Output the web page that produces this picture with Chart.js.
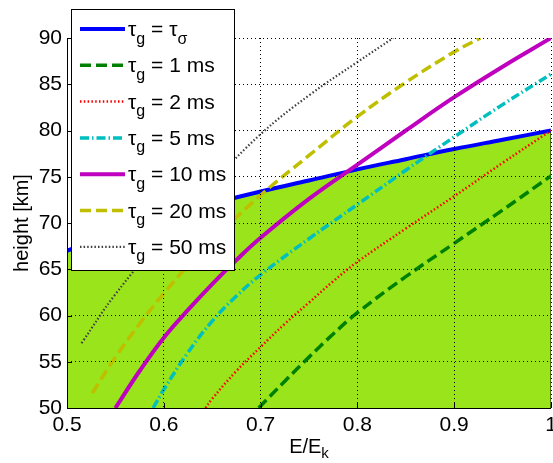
<!DOCTYPE html>
<html><head><meta charset="utf-8">
<script src="https://cdn.jsdelivr.net/npm/chart.js@4.4.1/dist/chart.umd.min.js"></script>
<style>html,body{margin:0;padding:0;background:#fff;}#wrap{width:553px;height:463px;}</style>
</head><body><div id="wrap"><canvas id="c" width="553" height="463"></canvas></div>
<script>
// ---- tick labels ----
const xTickValues = [0.5, 0.6, 0.7, 0.8, 0.9, 1.0];
const xTickLabels = ['0.5', '0.6', '0.7', '0.8', '0.9', '1'];
const yTickValues = [50, 55, 60, 65, 70, 75, 80, 85, 90];
const yTickLabels = ['50', '55', '60', '65', '70', '75', '80', '85', '90'];

// ---- series (E/Ek, height km) ----
const eSigma = [0.50, 0.55, 0.60, 0.65, 0.70, 0.75, 0.80, 0.85, 0.90, 0.95, 1.00];
const hSigma = [67.0, 68.9, 70.6, 72.1, 73.4, 74.6, 75.8, 76.9, 78.0, 79.0, 80.0];

const e1 = [0.698, 0.725, 0.75, 0.775, 0.80, 0.85, 0.90, 0.95, 1.00];
const h1 = [50.0, 52.9, 55.5, 58.0, 60.3, 64.2, 67.8, 71.4, 75.1];

const e2 = [0.643, 0.65, 0.675, 0.70, 0.725, 0.75, 0.775, 0.80, 0.85, 0.90, 0.95, 1.00];
const h2 = [50.0, 51.0, 54.0, 56.6, 59.1, 61.4, 63.7, 65.8, 69.4, 72.9, 76.5, 80.0];

const e5 = [0.589, 0.60, 0.625, 0.65, 0.675, 0.70, 0.75, 0.80, 0.85, 0.90, 0.95, 1.00];
const h5 = [50.0, 52.0, 56.0, 59.4, 62.1, 64.4, 68.3, 72.0, 75.7, 79.3, 82.8, 86.1];

const e10 = [0.550, 0.575, 0.60, 0.625, 0.65, 0.675, 0.70, 0.75, 0.80, 0.85, 0.90, 0.95, 1.00];
const h10 = [50.0, 54.0, 57.6, 60.6, 63.4, 66.0, 68.4, 72.6, 76.3, 80.0, 83.6, 86.9, 90.0];

const e20 = [0.526, 0.55, 0.575, 0.60, 0.625, 0.65, 0.70, 0.75, 0.80, 0.85, 0.90, 0.927];
const h20 = [51.6, 55.5, 59.1, 62.4, 65.4, 68.1, 73.0, 77.3, 81.5, 85.2, 88.5, 90.0];

const e50 = [0.515, 0.55, 0.60, 0.65, 0.70, 0.75, 0.80, 0.837];
const h50 = [57.0, 62.3, 68.6, 74.3, 79.6, 83.8, 87.4, 90.0];

// legend texts: alternating [normal, subscript, normal, subscript...]
const legendTexts = [
  ['τ', 'g', ' = τ', 'σ'],
  ['τ', 'g', ' = 1 ms'],
  ['τ', 'g', ' = 2 ms'],
  ['τ', 'g', ' = 5 ms'],
  ['τ', 'g', ' = 10 ms'],
  ['τ', 'g', ' = 20 ms'],
  ['τ', 'g', ' = 50 ms']
];
const xTitleParts = ['E/E', 'k'];
const yTitle = 'height [km]';

const FONT = "'Liberation Sans', Arial, Helvetica, sans-serif";
const pts = (xs, ys) => xs.map((x, i) => ({x, y: ys[i]}));

const styles = [
  {color: '#0000ff', width: 4, dash: []},
  {color: '#008000', width: 3.5, dash: [11, 5]},
  {color: '#ff0000', width: 2.5, dash: [1.5, 2.3]},
  {color: '#00bfbf', width: 3.5, dash: [9, 3, 1.5, 3]},
  {color: '#bf00bf', width: 4, dash: []},
  {color: '#bfbf00', width: 3.5, dash: [11, 5]},
  {color: '#404040', width: 2.2, dash: [1.5, 2.1]}
];
const seriesData = [pts(eSigma, hSigma), pts(e1, h1), pts(e2, h2), pts(e5, h5), pts(e10, h10), pts(e20, h20), pts(e50, h50)];

const datasets = [];
datasets.push({
  data: pts(eSigma, hSigma), showLine: true, fill: 'start', backgroundColor: 'rgb(153,228,26)',
  borderWidth: 0, borderColor: 'rgba(0,0,0,0)', pointRadius: 0, tension: 0.4, order: 20
});
datasets.push({
  data: [{x: eSigma[eSigma.length - 1], y: yTickValues[0]}, {x: eSigma[eSigma.length - 1], y: hSigma[hSigma.length - 1]}],
  showLine: true, borderColor: '#000', borderWidth: 1, pointRadius: 0, order: 19
});
seriesData.forEach((d, i) => {
  datasets.push({
    data: d, showLine: true, fill: false, borderColor: styles[i].color, borderWidth: styles[i].width,
    borderDash: styles[i].dash, pointRadius: 0, tension: 0.4, order: 10 - i
  });
});

function drawParts(ctx, parts, x, yBase, mainSize, subSize, subDrop) {
  parts.forEach((p, i) => {
    const sub = i % 2 === 1;
    ctx.font = (sub ? subSize : mainSize) + 'px ' + FONT;
    ctx.fillText(p, x, yBase + (sub ? subDrop : 0));
    x += ctx.measureText(p).width;
  });
  return x;
}
function partsWidth(ctx, parts, mainSize, subSize) {
  let w = 0;
  parts.forEach((p, i) => { ctx.font = ((i % 2) ? subSize : mainSize) + 'px ' + FONT; w += ctx.measureText(p).width; });
  return w;
}

const extras = {
  id: 'extras',
  afterDatasetsDraw(chart) {
    const {ctx, chartArea: a, scales: {x, y}} = chart;
    ctx.save();
    ctx.strokeStyle = '#000'; ctx.lineWidth = 1; ctx.setLineDash([]);
    ctx.beginPath();
    x.ticks.forEach(t => { const px = Math.round(x.getPixelForValue(t.value)) + 0.5; ctx.moveTo(px, a.bottom); ctx.lineTo(px, a.bottom - 5); });
    y.ticks.forEach(t => { const py = Math.round(y.getPixelForValue(t.value)) + 0.5; ctx.moveTo(a.left, py); ctx.lineTo(a.left + 5, py); });
    ctx.stroke();
    ctx.restore();
  },
  afterDraw(chart) {
    const {ctx, chartArea: a} = chart;
    ctx.save();
    // axis lines (left and bottom)
    ctx.strokeStyle = '#000'; ctx.lineWidth = 1; ctx.setLineDash([]);
    ctx.beginPath();
    const L = Math.round(a.left) + 0.5, B = Math.round(a.bottom) + 0.5;
    ctx.moveTo(L, Math.round(a.top)); ctx.lineTo(L, B); ctx.lineTo(Math.round(a.right), B);
    ctx.stroke();
    // x title
    ctx.fillStyle = '#000'; ctx.textBaseline = 'alphabetic'; ctx.textAlign = 'left';
    const w = partsWidth(ctx, xTitleParts, 20, 15);
    drawParts(ctx, xTitleParts, (a.left + a.right) / 2 - w / 2, 453, 20, 15, 5);
    // legend
    const bx = 71.5, by = 9.5, bw = 163, bh = 261;
    ctx.fillStyle = '#fff'; ctx.fillRect(bx, by, bw, bh);
    ctx.strokeStyle = '#000'; ctx.lineWidth = 1; ctx.setLineDash([]);
    ctx.strokeRect(bx, by, bw, bh);
    legendTexts.forEach((parts, i) => {
      const cy = 29 + i * 36.3;
      const s = styles[i];
      ctx.save();
      ctx.strokeStyle = s.color; ctx.lineWidth = s.width; ctx.setLineDash(s.dash);
      ctx.beginPath(); ctx.moveTo(80, cy); ctx.lineTo(125, cy); ctx.stroke();
      ctx.restore();
      ctx.fillStyle = '#000';
      drawParts(ctx, parts, 128, cy + 7, 21, 16, 7.5);
    });
    ctx.restore();
  }
};

new Chart(document.getElementById('c'), {
  type: 'scatter',
  data: {datasets},
  options: {
    responsive: false, animation: false, devicePixelRatio: 1,
    layout: {padding: {top: 38, right: 2, left: 0, bottom: 0}},
    plugins: {legend: {display: false}, tooltip: {enabled: false}},
    scales: {
      x: {
        type: 'linear', min: xTickValues[0], max: xTickValues[xTickValues.length - 1],
        afterBuildTicks: s => { s.ticks = xTickValues.map(v => ({value: v})); },
        afterFit: s => { s.height = 55; s.paddingLeft = 0; s.paddingRight = 0; },
        ticks: {color: '#000', font: {family: FONT, size: 21}, padding: 5, maxRotation: 0, autoSkip: false,
          callback: (v, i) => xTickLabels[i]},
        grid: {color: '#000', lineWidth: 1, drawTicks: false, z: 1},
        border: {display: false, dash: [1, 3]}
      },
      y: {
        type: 'linear', min: yTickValues[0], max: yTickValues[yTickValues.length - 1],
        afterBuildTicks: s => { s.ticks = yTickValues.map(v => ({value: v})); },
        afterFit: s => { s.width = 67; s.paddingTop = 0; s.paddingBottom = 0; },
        ticks: {color: '#000', font: {family: FONT, size: 21}, padding: 5, autoSkip: false,
          callback: (v, i) => yTickLabels[i]},
        grid: {color: '#000', lineWidth: 1, drawTicks: false, z: 1},
        border: {display: false, dash: [1, 3]},
        title: {display: true, text: yTitle, color: '#000', font: {family: FONT, size: 20}, padding: {top: 10, bottom: 0}}
      }
    }
  },
  plugins: [extras]
});
</script></body></html>
